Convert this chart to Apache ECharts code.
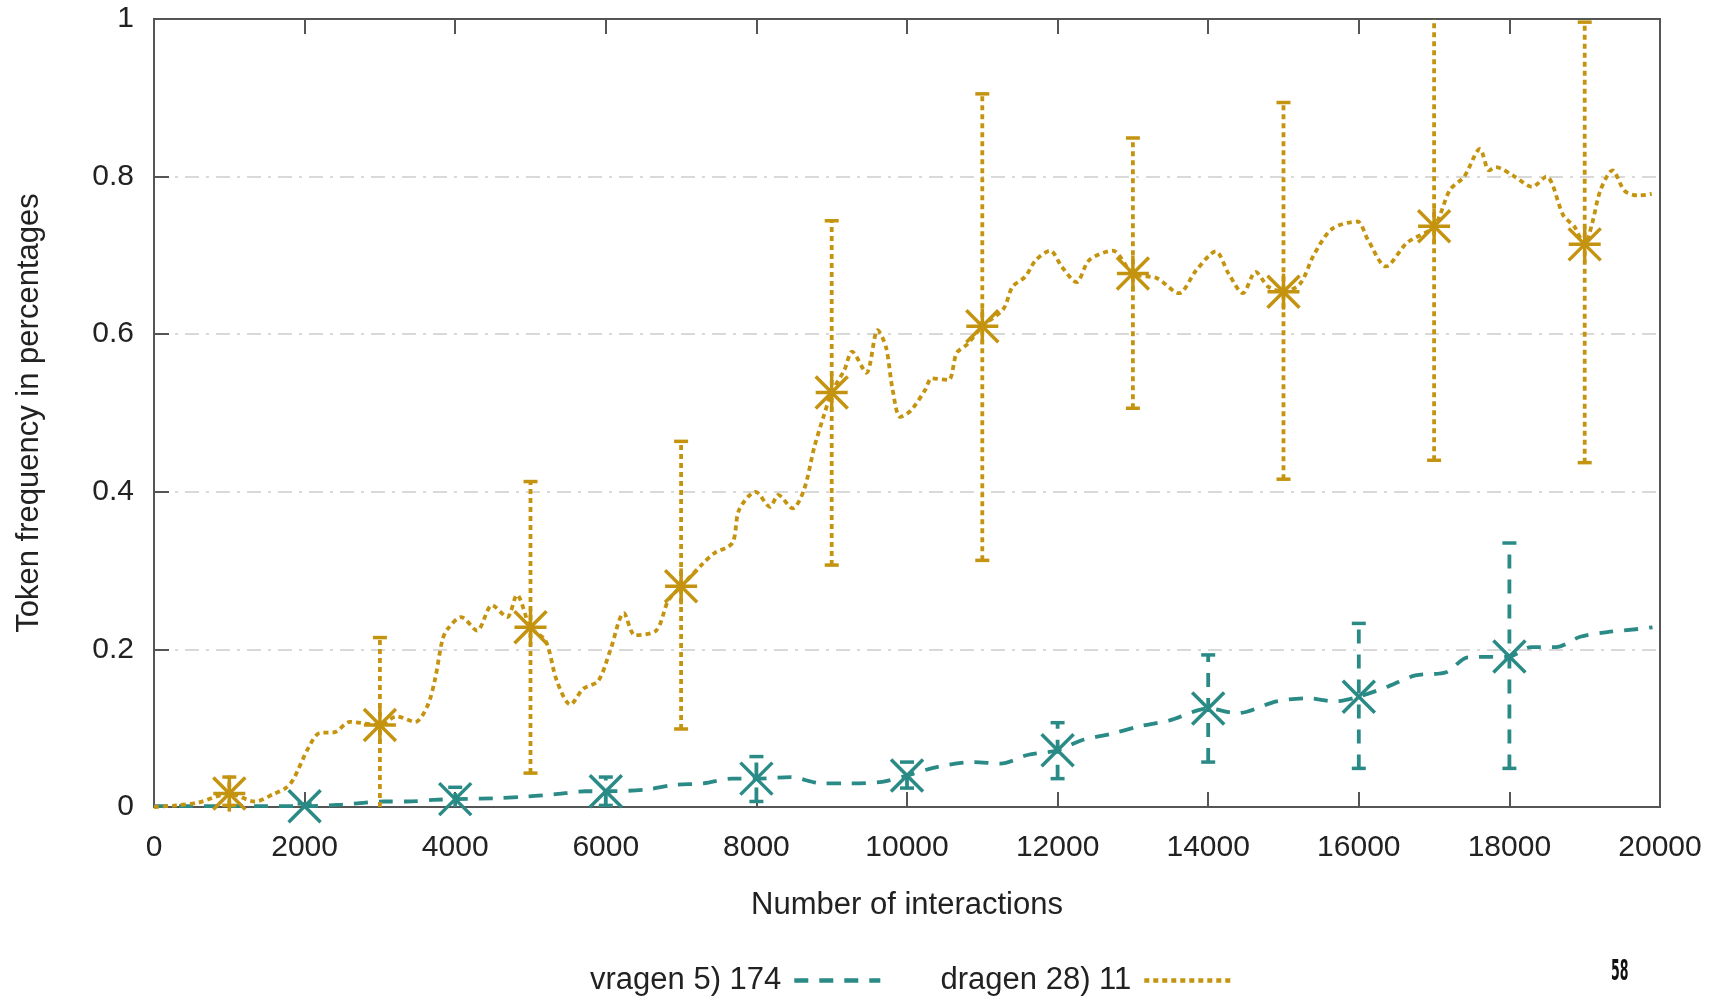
<!DOCTYPE html>
<html>
<head>
<meta charset="utf-8">
<title>Token frequency</title>
<script src="https://cdn.jsdelivr.net/npm/echarts@6/dist/echarts.min.js"></script>
<style>
  html, body { margin: 0; padding: 0; background: #fff; }
  #chart { width: 1729px; height: 997px; }
</style>
</head>
<body>
<div id="chart"></div>
<script>
// axis ticks
var xTicks = [0, 2000, 4000, 6000, 8000, 10000, 12000, 14000, 16000, 18000, 20000];
var yTicks = [0, 0.2, 0.4, 0.6, 0.8, 1];

// vragen 5) 174 -- mean curve
var vragenSteps = [0, 500, 1000, 1500, 2000, 2500, 3060, 3360, 3710, 4000, 4510, 4900, 5310, 5730, 6000,
  6530, 6910, 7300, 7680, 8000, 8450, 8870, 9220, 9670, 10000, 10410, 10890, 11240, 11600, 12000,
  12330, 12720, 13070, 13490, 14000, 14380, 14910, 15320, 15680, 16000, 16390, 16750, 17160, 17450,
  18000, 18290, 18620, 18940, 19300, 19720, 19900];
var vragenFreq = [0.001, 0.001, 0.001, 0.001, 0.001, 0.003, 0.007, 0.007, 0.009, 0.010, 0.011, 0.013, 0.016, 0.020, 0.020,
  0.022, 0.028, 0.030, 0.036, 0.036, 0.038, 0.030, 0.030, 0.032, 0.040, 0.051, 0.057, 0.055, 0.066, 0.072,
  0.085, 0.093, 0.102, 0.110, 0.125, 0.119, 0.134, 0.138, 0.134, 0.140, 0.153, 0.167, 0.171, 0.190,
  0.191, 0.203, 0.203, 0.216, 0.222, 0.226, 0.228];

// vragen error bars
var vragenBarX = [2000, 4000, 6000, 8000, 10000, 12000, 14000, 16000, 18000];
var vragenMean = [0.001, 0.010, 0.020, 0.036, 0.040, 0.072, 0.125, 0.140, 0.191];
var vragenLow = [0, 0, 0.002, 0.007, 0.024, 0.036, 0.057, 0.049, 0.049];
var vragenHigh = [0.004, 0.025, 0.038, 0.064, 0.057, 0.107, 0.193, 0.233, 0.335];

// dragen 28) 11 -- mean curve
var dragenSteps = [0, 300, 600, 1000, 1340, 1600, 1750, 1850, 2050, 2200, 2400, 2600, 3000, 3220, 3470,
  3630, 3730, 3830, 3900, 4080, 4290, 4490, 4690, 4820, 5000, 5200, 5350, 5530, 5700, 5900, 6060,
  6240, 6390, 6670, 6830, 7000, 7300, 7440, 7680, 7770, 7990, 8180, 8290, 8480, 8630, 8770, 8890,
  9000, 9170, 9270, 9460, 9610, 9720, 9810, 9910, 10050, 10240, 10330, 10550, 10660, 10810, 11000,
  11280, 11400, 11570, 11710, 11900, 12060, 12250, 12420, 12730, 13000, 13320, 13610, 13840, 14100,
  14270, 14460, 14630, 14800, 15000, 15220, 15410, 15650, 15980, 16120, 16360, 16640, 17000, 17210,
  17400, 17610, 17730, 17820, 18070, 18300, 18490, 18720, 18860, 19000, 19100, 19210, 19370, 19530,
  19710, 19890];
var dragenFreq = [0, 0.002, 0.006, 0.017, 0.007, 0.017, 0.024, 0.035, 0.075, 0.094, 0.095, 0.108, 0.104, 0.115, 0.108,
  0.128, 0.161, 0.212, 0.226, 0.241, 0.224, 0.256, 0.241, 0.269, 0.228, 0.211, 0.160, 0.130, 0.150, 0.160, 0.199,
  0.246, 0.218, 0.224, 0.262, 0.280, 0.310, 0.322, 0.335, 0.377, 0.400, 0.381, 0.396, 0.379, 0.402, 0.457, 0.495,
  0.526, 0.555, 0.578, 0.551, 0.605, 0.584, 0.529, 0.495, 0.503, 0.529, 0.544, 0.542, 0.576, 0.588, 0.610,
  0.632, 0.660, 0.673, 0.694, 0.706, 0.685, 0.666, 0.694, 0.706, 0.677, 0.671, 0.652, 0.681, 0.705,
  0.677, 0.652, 0.679, 0.660, 0.654, 0.664, 0.702, 0.734, 0.743, 0.720, 0.686, 0.716, 0.737, 0.783,
  0.800, 0.835, 0.808, 0.812, 0.800, 0.787, 0.800, 0.750, 0.737, 0.714, 0.741, 0.783, 0.808, 0.782,
  0.776, 0.778];

// dragen error bars
var dragenBarX = [1000, 3000, 5000, 7000, 9000, 11000, 13000, 15000, 17000, 19000];
var dragenMean = [0.017, 0.104, 0.228, 0.280, 0.526, 0.610, 0.677, 0.654, 0.737, 0.714];
var dragenLow = [0.002, 0, 0.043, 0.099, 0.307, 0.313, 0.506, 0.416, 0.440, 0.437];
var dragenHigh = [0.038, 0.215, 0.413, 0.464, 0.744, 0.905, 0.849, 0.894, 1.05, 0.996];

var tealColor = '#2a8a86';
var goldColor = '#c4930f';
var tealDash = [14, 11];
var goldDash = [5, 4];
var yMax = yTicks[yTicks.length - 1];

function zip(a, b) {
  return a.map(function (v, i) { return [v, b[i]]; });
}
function barRows(xs, mean, low, high) {
  return xs.map(function (v, i) { return [v, mean[i], low[i], high[i]]; });
}

// error bar + point marker, gnuplot style
function errorBars(color, dash, asterisk) {
  return function (params, api) {
    var x = api.value(0);
    var lo = api.value(2);
    var hi = api.value(3);
    var pMid = api.coord([x, api.value(1)]);
    var pLo = api.coord([x, lo]);
    var pHi = api.coord([x, Math.min(hi, yMax)]);
    var dashed = { stroke: color, lineWidth: 3.8, lineDash: dash, fill: null };
    var solid = { stroke: color, lineWidth: 3.5, fill: null };
    var kids = [{ type: 'line', shape: { x1: pLo[0], y1: pLo[1], x2: pHi[0], y2: pHi[1] }, style: dashed }];
    var c = 7;
    if (lo > 0) {
      kids.push({ type: 'line', shape: { x1: pLo[0] - c, y1: pLo[1], x2: pLo[0] + c, y2: pLo[1] }, style: solid });
    }
    if (hi <= yMax) {
      kids.push({ type: 'line', shape: { x1: pHi[0] - c, y1: pHi[1], x2: pHi[0] + c, y2: pHi[1] }, style: solid });
    }
    var s = 16;
    kids.push({ type: 'line', shape: { x1: pMid[0] - s, y1: pMid[1] - s, x2: pMid[0] + s, y2: pMid[1] + s }, style: solid });
    kids.push({ type: 'line', shape: { x1: pMid[0] - s, y1: pMid[1] + s, x2: pMid[0] + s, y2: pMid[1] - s }, style: solid });
    if (asterisk) {
      kids.push({ type: 'line', shape: { x1: pMid[0] - s, y1: pMid[1], x2: pMid[0] + s, y2: pMid[1] }, style: solid });
      kids.push({ type: 'line', shape: { x1: pMid[0], y1: pMid[1] - s - 2, x2: pMid[0], y2: pMid[1] + s + 2 }, style: solid });
    }
    return { type: 'group', children: kids };
  };
}

var chart = echarts.init(document.getElementById('chart'));
var fontFam = '"Liberation Sans", Arial, sans-serif';

chart.setOption({
  animation: false,
  backgroundColor: '#fff',
  textStyle: { fontFamily: fontFam },
  grid: {
    left: 154, right: 69, top: 19, bottom: 190,
    show: true, borderColor: '#555', borderWidth: 2, backgroundColor: 'transparent'
  },
  legend: {
    data: ['vragen 5) 174', 'dragen 28) 11'],
    left: 585, top: 960,
    align: 'right',
    itemWidth: 86, itemHeight: 14, itemGap: 58,
    itemStyle: { opacity: 0 },
    lineStyle: { width: 4.5 },
    textStyle: { fontSize: 31, color: '#222', fontFamily: fontFam, padding: [0, 8, 0, 0] }
  },
  xAxis: [{
    type: 'value',
    min: xTicks[0], max: xTicks[xTicks.length - 1], interval: xTicks[1] - xTicks[0],
    name: 'Number of interactions', nameLocation: 'middle', nameGap: 83,
    nameTextStyle: { fontSize: 31, color: '#222' },
    axisLine: { show: false },
    axisTick: { inside: true, length: 15, lineStyle: { color: '#555', width: 2 } },
    axisLabel: { fontSize: 30, color: '#222', margin: 26, formatter: function (v) { return String(v); } },
    splitLine: { show: false }
  }, {
    type: 'value', position: 'top',
    min: xTicks[0], max: xTicks[xTicks.length - 1], interval: xTicks[1] - xTicks[0],
    axisLine: { show: false },
    axisTick: { inside: true, length: 15, lineStyle: { color: '#555', width: 2 } },
    axisLabel: { show: false },
    splitLine: { show: false }
  }],
  yAxis: {
    type: 'value',
    min: yTicks[0], max: yMax, interval: yTicks[1] - yTicks[0],
    name: 'Token frequency in percentages', nameLocation: 'middle', nameGap: 109,
    nameTextStyle: { fontSize: 31, color: '#222' },
    axisLine: { show: false },
    axisTick: { inside: true, length: 15, lineStyle: { color: '#555', width: 2 } },
    axisLabel: { fontSize: 30, color: '#222', margin: 20 },
    splitLine: {
      showMinLine: false, showMaxLine: false,
      lineStyle: { color: '#cdcdcd', width: 1.5, type: [14, 7, 3, 7] }
    }
  },
  series: [{
    name: 'vragen 5) 174',
    type: 'line',
    data: zip(vragenSteps, vragenFreq),
    showSymbol: false, symbol: 'none',
    smooth: 0.3,
    color: tealColor,
    lineStyle: { color: tealColor, width: 3.8, type: tealDash, cap: 'butt' },
    z: 3
  }, {
    name: 'dragen 28) 11',
    type: 'line',
    data: zip(dragenSteps, dragenFreq),
    showSymbol: false, symbol: 'none',
    smooth: 0.3,
    color: goldColor,
    lineStyle: { color: goldColor, width: 3.8, type: goldDash, cap: 'butt' },
    z: 3
  }, {
    name: 'vragen bars',
    type: 'custom',
    data: barRows(vragenBarX, vragenMean, vragenLow, vragenHigh),
    encode: { x: 0, y: [1, 2, 3] },
    renderItem: errorBars(tealColor, tealDash, false),
    z: 4
  }, {
    name: 'dragen bars',
    type: 'custom',
    data: barRows(dragenBarX, dragenMean, dragenLow, dragenHigh),
    encode: { x: 0, y: [1, 2, 3] },
    renderItem: errorBars(goldColor, goldDash, true),
    z: 4
  }],
  graphic: [{
    type: 'text', left: 1611, top: 959,
    scaleX: 0.5,
    style: { text: '58', fontSize: 28, fontWeight: 'bold', fontFamily: '"DejaVu Sans Condensed", "DejaVu Sans", sans-serif', fill: '#111' }
  }]
});
</script>
</body>
</html>
